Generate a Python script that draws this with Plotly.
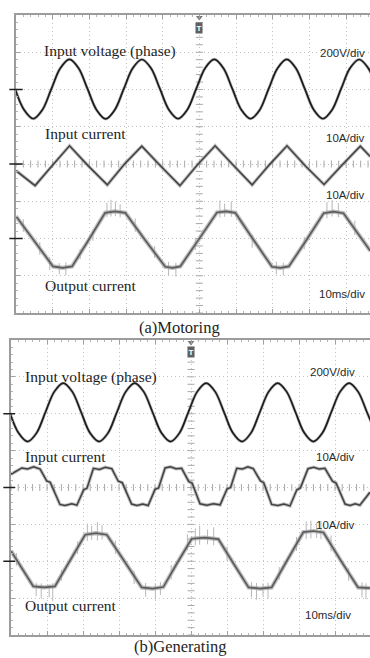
import numpy as np
import plotly.graph_objects as go

# ---------------- data ----------------
# time in ms (10 ms/div), voltage in V (200 V/div), currents in A (10 A/div)

# (a) Motoring
a_v_t = [-0.24, 2.23, 4.70, 7.17, 9.64, 12.11, 14.58, 17.04, 19.51, 21.98, 24.45, 26.92,
         29.39, 31.86, 34.33, 36.79, 39.26, 41.73, 44.20, 46.67, 49.14, 51.61, 54.08,
         56.54, 59.01, 61.48, 63.95, 66.42, 68.89, 71.36, 73.83, 76.29, 78.76, 81.23,
         83.70, 86.17, 88.64, 91.11, 93.58, 96.04, 98.51]
a_v = [3, -110, -157, -110, 3, 115, 162, 115, 3, -110, -158, -110, 3, 115, 161, 115, 3,
       -110, -157, -110, 3, 116, 162, 115, 3, -110, -157, -111, 3, 115, 162, 115, 3,
       -110, -157, -110, 3, 115, 161, 115, 3]

a_iin_t = [0.0, 5.2, 9.9, 14.6, 19.7, 24.9, 29.6, 34.3, 39.5, 44.7, 49.5, 54.3, 59.4,
           64.4, 69.2, 73.9, 79.0, 84.0, 89.0, 93.9, 96.6]
a_iin = [-1.8, -5.8, -0.4, 4.9, -0.5, -5.6, 0.0, 4.8, -0.6, -5.8, -0.2, 4.9, -0.5,
         -5.6, -0.1, 4.9, -0.6, -5.5, -0.2, 4.8, 2.0]

a_iout_t = [0.0, 5.0, 10.1, 12.7, 15.3, 19.8, 24.3, 27.0, 29.8, 35.2, 40.7, 42.7, 44.8,
            49.8, 54.8, 57.3, 59.8, 64.8, 69.8, 72.1, 74.4, 79.2, 83.9, 86.6, 89.3, 96.6]
a_iout = [6.0, -0.8, -7.5, -7.9, -7.5, -0.4, 6.9, 7.3, 6.9, -0.4, -7.6, -7.9, -7.5,
          -0.3, 7.0, 7.3, 6.9, -0.4, -7.6, -7.9, -7.5, -0.4, 6.8, 7.2, 6.8, -3.3]

a_spk_t = [2.0, 6.5, 9.2, 11.8, 13.6, 17.5, 21.0, 24.8, 25.9, 27.1, 28.4, 32.5, 37.8,
           41.6, 43.6, 48.9, 55.6, 56.9, 58.7, 64.4, 71.0, 72.9, 78.6, 84.8, 86.2, 87.9, 92.4]
a_spk_lo = [1.8, -4.4, -8.5, -9.6, -9.9, -5.5, -0.6, 5.8, 5.9, 6.0, 5.7, 1.8, -5.2,
            -9.8, -10.2, -3.1, 5.6, 5.8, 5.8, -2.5, -9.6, -9.9, -2.9, 5.4, 5.9, 5.7, 0.9]
a_spk_hi = [5.2, -1.0, -5.0, -6.6, -6.4, -2.8, 2.4, 9.6, 10.4, 9.9, 9.2, 5.4, -2.0,
            -6.3, -6.5, 0.2, 10.2, 9.4, 10.0, 1.0, -6.2, -6.5, 0.4, 9.8, 10.3, 9.5, 4.8]

# (b) Generating
b_v_t = [-0.36, 2.12, 4.60, 7.08, 9.56, 12.04, 14.52, 17.01, 19.49, 21.97, 24.45, 26.93,
         29.41, 31.89, 34.37, 36.85, 39.33, 41.82, 44.30, 46.78, 49.26, 51.74, 54.22,
         56.70, 59.18, 61.66, 64.15, 66.63, 69.11, 71.59, 74.07, 76.55, 79.03, 81.51,
         83.99, 86.48, 88.96, 91.44, 93.92, 96.40, 98.88, 101.36]
b_v = [8, -105, -151, -105, 8, 120, 166, 120, 8, -105, -151, -105, 8, 120, 166, 120, 8,
       -105, -151, -105, 8, 120, 166, 120, 8, -105, -151, -105, 8, 120, 166, 120, 8,
       -105, -151, -105, 8, 120, 166, 120, 8, -105]

b_iin_t = [0.0, 3.0, 4.6, 6.3, 8.1, 9.9, 10.9, 13.6, 15.0, 16.9, 18.3, 20.2, 21.1, 22.9,
           24.6, 26.2, 28.0, 29.8, 30.9, 33.5, 35.0, 36.6, 38.1, 40.0, 41.0, 42.8, 44.3,
           45.8, 47.4, 49.4, 50.3, 52.5, 54.4, 56.2, 58.1, 60.0, 61.0, 62.7, 64.3, 65.8,
           67.3, 69.3, 70.2, 72.4, 74.1, 75.8, 77.5, 79.4, 80.4, 82.5, 84.1, 85.6, 87.2,
           89.3, 90.3, 92.8, 94.2, 95.6, 96.9, 99.7]
b_iin = [3.6, 5.3, 5.0, 5.6, 5.0, 1.8, 1.4, -4.6, -4.9, -4.4, -4.8, -0.6, -0.2, 5.2,
         4.9, 5.5, 5.1, 1.7, 1.3, -4.5, -4.9, -4.5, -4.9, -0.5, -0.1, 5.3, 5.6, 5.1, 5.2,
         1.6, 1.2, -4.4, -4.8, -4.4, -4.7, -0.4, 0.0, 5.2, 5.0, 5.6, 5.1, 1.8, 1.3, -4.6,
         -4.9, -4.5, -5.0, -0.6, -0.1, 5.1, 5.5, 5.0, 5.2, 1.7, 1.2, -4.5, -4.9, -4.4,
         -4.8, -1.3]

b_iout_t = [0.0, 3.2, 6.2, 9.2, 12.2, 16.4, 20.6, 23.6, 26.6, 31.5, 36.3, 39.3, 42.3,
            46.2, 50.2, 53.8, 57.6, 61.8, 66.0, 69.2, 72.4, 76.8, 81.2, 84.0, 86.8,
            91.6, 96.4, 99.7]
b_iout = [2.8, -2.3, -6.8, -7.1, -6.8, 0.2, 7.2, 7.6, 7.2, 0.0, -7.1, -7.4, -7.0,
          -0.4, 6.1, 6.4, 6.0, -0.6, -7.1, -7.4, -7.1, 0.4, 7.9, 8.2, 7.8, 0.2, -7.1, -7.3]

b_spk_t = [1.5, 7.0, 8.4, 10.6, 11.6, 14.0, 18.5, 21.2, 22.4, 24.0, 25.3, 29.0, 34.2,
           37.4, 40.1, 41.5, 44.5, 49.0, 51.2, 52.4, 54.6, 56.3, 60.0, 66.8, 68.2, 70.0,
           71.4, 74.5, 79.3, 82.0, 83.3, 84.9, 86.1, 88.9, 93.8, 97.5, 98.6]
b_spk_lo = [-1.2, -9.5, -10.2, -9.8, -10.8, -5.2, 2.0, 5.5, 5.8, 5.6, 5.9, 2.0, -6.2,
            -9.6, -10.4, -9.1, -4.9, 3.0, 4.3, 4.5, 4.6, 4.3, 0.2, -9.8, -10.4, -9.5,
            -10.1, -5.0, 2.8, 6.0, 6.2, 6.3, 6.0, 2.7, -5.3, -9.8, -10.3]
b_spk_hi = [2.2, -5.8, -6.0, -6.3, -5.9, -2.4, 5.4, 10.2, 9.6, 10.6, 9.8, 5.6, -2.6,
            -5.9, -6.0, -5.6, -1.0, 7.3, 8.9, 9.6, 8.6, 9.2, 4.0, -5.6, -5.9, -6.0,
            -5.8, -1.6, 6.6, 10.8, 11.0, 10.4, 10.9, 7.0, -1.9, -5.7, -6.0]

# channel settings (div offset of each trace's ground marker, units per div)
levels = {"v": 2.0, "iin": 0.0, "iout": -2.0}
scales = {"v": 200.0, "iin": 10.0, "iout": 10.0}

labels_a = ["Input voltage (phase)", "Input current", "Output current"]
labels_b = ["Input voltage (phase)", "Input current", "Output current"]
scale_txt = ["200V/div", "10A/div", "10A/div", "10ms/div"]
captions = ["(a)Motoring", "(b)Generating"]

# ---------------- figure ----------------
W, H = 370, 658
SERIF = "Liberation Serif, Times New Roman, serif"
SANS = "Liberation Sans, Arial, sans-serif"


def div(vals, key):
    return [levels[key] + v / scales[key] for v in vals]


def spikes(ts, lo, hi):
    xs, ys = [], []
    for t, a, b in zip(ts, lo, hi):
        xs += [t, t, None]
        ys += [levels["iout"] + a / scales["iout"], levels["iout"] + b / scales["iout"], None]
    return xs, ys


fig = go.Figure()


def add_panel(xa, ya, vt, v, it, i, ot, o, st, slo, shi):
    common = dict(xaxis=xa, yaxis=ya, hoverinfo="skip", showlegend=False)
    # decorations: ticks on the centre cross
    tx = np.arange(0, 100.01, 2)
    fig.add_trace(go.Scatter(x=tx, y=np.zeros_like(tx), mode="markers",
                             marker=dict(symbol="line-ns", size=5,
                                         line=dict(width=1, color="#a8a8a8")), **common))
    ty = np.arange(-4, 4.01, 0.2)
    fig.add_trace(go.Scatter(x=np.full_like(ty, 50.0), y=ty, mode="markers",
                             marker=dict(symbol="line-ew", size=5,
                                         line=dict(width=1, color="#a8a8a8")), **common))
    # voltage
    fig.add_trace(go.Scatter(x=vt, y=div(v, "v"), mode="lines",
                             line=dict(color="#6a6a6a", width=3.0, shape="spline"),
                             opacity=0.45, **common))
    fig.add_trace(go.Scatter(x=vt, y=div(v, "v"), mode="lines",
                             line=dict(color="#1c1c1c", width=1.7, shape="spline"), **common))
    # input current
    fig.add_trace(go.Scatter(x=it, y=div(i, "iin"), mode="lines",
                             line=dict(color="#8a8a8a", width=3.4), opacity=0.55, **common))
    fig.add_trace(go.Scatter(x=it, y=div(i, "iin"), mode="lines",
                             line=dict(color="#424242", width=1.5), **common))
    # output current spikes + trace
    sx, sy = spikes(st, slo, shi)
    fig.add_trace(go.Scatter(x=sx, y=sy, mode="lines",
                             line=dict(color="#b8b8b8", width=1), **common))
    fig.add_trace(go.Scatter(x=ot, y=div(o, "iout"), mode="lines",
                             line=dict(color="#a4a4a4", width=4.2), opacity=0.7, **common))
    fig.add_trace(go.Scatter(x=ot, y=div(o, "iout"), mode="lines",
                             line=dict(color="#5c5c5c", width=1.7), **common))
    # trigger arrow at the top edge
    fig.add_trace(go.Scatter(x=[50], y=[3.93], mode="markers",
                             marker=dict(symbol="triangle-down", size=6, color="#7a7a7a"),
                             cliponaxis=False, **common))


add_panel("x", "y", a_v_t, a_v, a_iin_t, a_iin, a_iout_t, a_iout, a_spk_t, a_spk_lo, a_spk_hi)
add_panel("x2", "y2", b_v_t, b_v, b_iin_t, b_iin, b_iout_t, b_iout, b_spk_t, b_spk_lo, b_spk_hi)


def xaxis(domain, rng, anchor):
    return dict(domain=domain, range=rng, anchor=anchor, tick0=0, dtick=10,
                showgrid=True, gridcolor="#c2c2c2", griddash="1px,3px", gridwidth=1,
                ticks="inside", ticklen=4, tickcolor="#a0a0a0", tickwidth=1,
                minor=dict(dtick=2, ticks="inside", ticklen=2, tickcolor="#b4b4b4", showgrid=False),
                showticklabels=False, showline=True, linecolor="#9c9c9c", linewidth=1.5,
                mirror="ticks", zeroline=False, fixedrange=True)


def yaxis(domain, anchor):
    return dict(domain=domain, range=[-4, 4], anchor=anchor, tick0=0, dtick=1,
                showgrid=True, gridcolor="#c2c2c2", griddash="1px,3px", gridwidth=1,
                ticks="inside", ticklen=4, tickcolor="#a0a0a0", tickwidth=1,
                minor=dict(dtick=0.2, ticks="inside", ticklen=2, tickcolor="#b4b4b4", showgrid=False),
                showticklabels=False, showline=True, linecolor="#9c9c9c", linewidth=1.5,
                zeroline=False, fixedrange=True)


# panel geometry (pixels)
A_L, A_T, A_B, A_PXMS = 16, 15, 313, 3.667
B_L, B_T, B_B, B_PXMS = 11, 340, 635, 3.6

fig.update_layout(
    width=W, height=H, margin=dict(l=0, r=0, t=0, b=0), autosize=False,
    paper_bgcolor="white", plot_bgcolor="white", showlegend=False,
    xaxis=xaxis([A_L / W, 1], [0, (W - A_L) / A_PXMS], "y"),
    yaxis=yaxis([1 - A_B / H, 1 - A_T / H], "x"),
    xaxis2=xaxis([B_L / W, 1], [0, (W - B_L) / B_PXMS], "y2"),
    yaxis2=yaxis([1 - B_B / H, 1 - B_T / H], "x2"),
)


def ydiv_a(px):
    c = (A_T + A_B) / 2
    return (c - px) / ((A_B - A_T) / 8)


def ydiv_b(px):
    c = (B_T + B_B) / 2
    return (c - px) / ((B_B - B_T) / 8)


ann = []


def label(xr, yr, x, y, text, serif, xanchor="left"):
    ann.append(dict(xref=xr, yref=yr, x=x, y=y, text=text, showarrow=False,
                    xanchor=xanchor, yanchor="middle",
                    font=dict(family=SERIF if serif else SANS,
                              size=15.5 if serif else 11.5,
                              color="#1e1e1e" if serif else "#2a2a2a")))


# panel (a) texts
ta = lambda px: (px - A_L) / A_PXMS
label("x", "y", ta(42), ydiv_a(51), labels_a[0], True)
label("x", "y", ta(43), ydiv_a(134), labels_a[1], True)
label("x", "y", ta(43), ydiv_a(285.5), labels_a[2], True)
label("x", "y", ta(367), ydiv_a(53), scale_txt[0], False, "right")
label("x", "y", ta(367), ydiv_a(138.5), scale_txt[1], False, "right")
label("x", "y", ta(367), ydiv_a(194.7), scale_txt[2], False, "right")
label("x", "y", ta(367), ydiv_a(294), scale_txt[3], False, "right")

# panel (b) texts
tb = lambda px: (px - B_L) / B_PXMS
label("x2", "y2", tb(23), ydiv_b(377), labels_b[0], True)
label("x2", "y2", tb(23), ydiv_b(456.5), labels_b[1], True)
label("x2", "y2", tb(23), ydiv_b(605), labels_b[2], True)
label("x2", "y2", tb(357), ydiv_b(371.7), scale_txt[0], False, "right")
label("x2", "y2", tb(357), ydiv_b(456.7), scale_txt[1], False, "right")
label("x2", "y2", tb(357), ydiv_b(525.3), scale_txt[2], False, "right")
label("x2", "y2", tb(353), ydiv_b(615), scale_txt[3], False, "right")

# trigger "T" tags
for xr, yr, yv in (("x", "y", ydiv_a(28)), ("x2", "y2", ydiv_b(351.5))):
    ann.append(dict(xref=xr, yref=yr, x=50, y=yv, text="<b>T</b>", showarrow=False,
                    bgcolor="#606060", borderpad=0.5,
                    font=dict(family=SANS, size=8, color="white")))

# captions
ann.append(dict(xref="paper", yref="paper", x=179 / W, y=1 - 327 / H, text=captions[0],
                showarrow=False, xanchor="center", yanchor="middle",
                font=dict(family=SERIF, size=16.5, color="#1e1e1e")))
ann.append(dict(xref="paper", yref="paper", x=180 / W, y=1 - 646 / H, text=captions[1],
                showarrow=False, xanchor="center", yanchor="middle",
                font=dict(family=SERIF, size=16.5, color="#1e1e1e")))
fig.update_layout(annotations=ann)

# ground-level markers at the left edge
shapes = []
for yr, x0, x1 in (("y", 9.3, 22.7), ("y2", 3.3, 15.0)):
    for key in ("v", "iin", "iout"):
        shapes.append(dict(type="line", xref="paper", yref=yr, x0=x0 / W, x1=x1 / W,
                           y0=levels[key], y1=levels[key],
                           line=dict(color="#1e1e1e", width=1.5)))
fig.update_layout(shapes=shapes)

fig.write_html("out.html", config={"displayModeBar": False},
               post_script="document.body.style.margin='0';document.body.style.overflow='hidden';")
